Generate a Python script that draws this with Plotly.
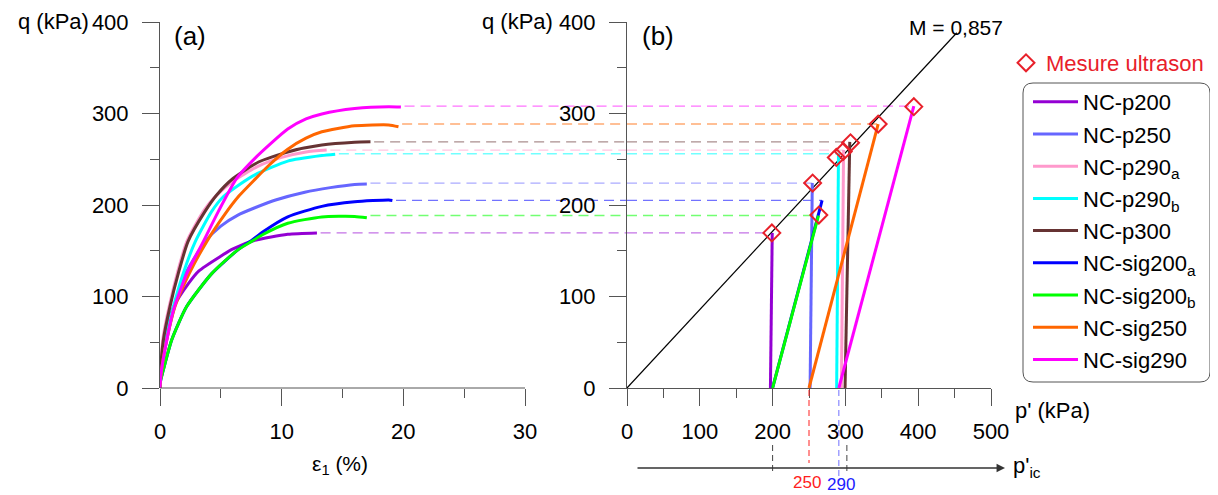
import plotly.graph_objects as go

# ---------------- data ----------------
names = ["NC-p200", "NC-p250", "NC-p290<sub>a</sub>", "NC-p290<sub>b</sub>", "NC-p300",
         "NC-sig200<sub>a</sub>", "NC-sig200<sub>b</sub>", "NC-sig250", "NC-sig290"]
colors = ["#9400D3", "#6666FF", "#FF99CC", "#00FFFF", "#663333",
          "#0000FF", "#00FF00", "#FF6600", "#FF00FF"]

# (a) q vs axial strain eps1 (%)
eps_p200 = [0, 0.05, 0.4, 1.1, 2.33, 3.2, 4.93, 6.0, 7.8, 10.5, 12.9]
q_p200 = [0, 18, 50, 88, 114, 128, 143.5, 152, 161.5, 168, 169.5]
eps_p250 = [0, 0.08, 0.5, 1.2, 2.1, 3.7, 5.0, 6.4, 7.8, 9.5, 11.9, 14.0, 16.0, 17.0]
q_p250 = [0, 18, 50, 89, 125, 160, 177, 189, 197, 205.5, 214, 219, 222.5, 223]
eps_p290a = [0, 0.05, 0.25, 0.8, 1.45, 2.2, 3.6, 4.6, 6.0, 8.0, 10.0, 12.0, 13.7]
q_p290a = [0, 22, 55, 92, 127, 160, 194, 210, 226, 242, 252, 258, 260]
eps_p290b = [0, 0.05, 0.41, 1.1, 1.9, 2.9, 4.25, 5.2, 6.6, 7.8, 10.5, 13.3, 14.4]
q_p290b = [0, 18, 52, 89, 125, 160, 193, 209, 223, 233, 248, 254, 255.5]
eps_p300 = [0, 0.05, 0.27, 0.82, 1.5, 2.3, 3.7, 4.66, 6.0, 8.1, 10.5, 13.3, 16.0, 17.3]
q_p300 = [0, 20, 52, 89, 125, 160, 193, 211, 229, 247, 258, 265.5, 268.5, 269]
eps_sig200a = [0, 0.05, 0.2, 0.96, 2.19, 4.25, 6.4, 7.5, 8.5, 10.5, 13.3, 16.0, 18.8, 19.1]
q_sig200a = [0, 8, 16, 52.5, 89, 125, 151, 161, 171, 187, 198.5, 203.5, 205.5, 205]
eps_sig200b = [0, 0.05, 0.2, 0.96, 2.19, 4.25, 6.4, 7.5, 8.5, 10.5, 13.3, 16.0, 17.0]
q_sig200b = [0, 8, 16, 52.5, 89, 125, 151, 160, 168, 180, 187, 187.5, 186]
eps_sig250 = [0, 0.08, 0.55, 1.23, 2.4, 3.84, 5.34, 6.5, 7.8, 9.0, 10.5, 12.0, 13.3, 16.0, 18.8, 19.6]
q_sig250 = [0, 15, 52, 89, 125, 160, 190, 210, 228, 244, 261, 273, 280, 286.5, 287.5, 285.5]
eps_sig290 = [0, 0.08, 0.45, 1.1, 2.2, 3.56, 4.8, 6.3, 7.8, 10.5, 12.0, 13.3, 16.0, 18.8, 19.8]
q_sig290 = [0, 15, 45, 85, 125, 160, 193, 229, 251, 283, 294, 299.5, 305.5, 307.5, 307]

# (b) effective stress paths q vs p'
p_path_p200 = [197, 199.5]
q_path_p200 = [0, 169.5]
p_path_p250 = [251.5, 254.5]
q_path_p250 = [0, 224]
p_path_p290a = [294.5, 297.5]
q_path_p290a = [0, 260]
p_path_p290b = [288, 290.5]
q_path_p290b = [0, 256]
p_path_p300 = [299.5, 306]
q_path_p300 = [0, 269]
p_path_sig200a = [200, 268]
q_path_sig200a = [0, 205]
p_path_sig200b = [200, 263]
q_path_sig200b = [0, 188.5]
p_path_sig250 = [250, 345]
q_path_sig250 = [0, 288.5]
p_path_sig290 = [291, 394]
q_path_sig290 = [0, 308]

# ultrasonic measurements
us_p = [199, 255, 263.5, 287.5, 297, 307, 345, 394]
us_q = [169.5, 224, 189, 252, 258.5, 268, 288.5, 307.5]

# critical state line
M_slope = 0.857
M_p_end = 453

# p'ic markers
pic_vals = [200, 250, 291, 302]

eps_all = [eps_p200, eps_p250, eps_p290a, eps_p290b, eps_p300,
           eps_sig200a, eps_sig200b, eps_sig250, eps_sig290]
q_all = [q_p200, q_p250, q_p290a, q_p290b, q_p300,
         q_sig200a, q_sig200b, q_sig250, q_sig290]
pp_all = [p_path_p200, p_path_p250, p_path_p290a, p_path_p290b, p_path_p300,
          p_path_sig200a, p_path_sig200b, p_path_sig250, p_path_sig290]
qp_all = [q_path_p200, q_path_p250, q_path_p290a, q_path_p290b, q_path_p300,
          q_path_sig200a, q_path_sig200b, q_path_sig250, q_path_sig290]

# ---------------- layout geometry ----------------
# the page body has an 8px margin, so the figure starts at (8, 8) of the window
OFF = 8
W, H = 1218 - OFF, 495 - OFF
FONT = "Arial, Liberation Sans, sans-serif"
AX = "#555555"

def px(x):
    return (x - OFF) / W

def py(y):
    return 1 - (y - OFF) / H

xa_dom = [px(160), px(627)]
xb_dom = [px(627), px(991)]
y_dom = [py(388), py(22)]
xa_max_vis = 30
xa_range_end = xa_max_vis * (627 - 160) / (525 - 160)

fig = go.Figure()

# dashed guide lines (drawn first)
for e, q, pp, qp, c in zip(eps_all, q_all, pp_all, qp_all, colors):
    qlvl = qp[-1]
    fig.add_trace(go.Scatter(x=[e[-1] + 0.3, xa_range_end], y=[qlvl, qlvl], mode="lines",
                             line=dict(color=c, width=1.3, dash="10px,6px"), opacity=0.55,
                             showlegend=False, hoverinfo="skip", xaxis="x", yaxis="y"))
    fig.add_trace(go.Scatter(x=[0, pp[-1]], y=[qlvl, qlvl], mode="lines",
                             line=dict(color=c, width=1.3, dash="10px,6px"), opacity=0.55,
                             showlegend=False, hoverinfo="skip", xaxis="x2", yaxis="y2"))

# critical state line
fig.add_trace(go.Scatter(x=[0, M_p_end], y=[0, M_slope * M_p_end], mode="lines",
                         line=dict(color="black", width=1.2), showlegend=False,
                         xaxis="x2", yaxis="y2"))

# (a) curves
for i, (n, e, q, c) in enumerate(zip(names, eps_all, q_all, colors)):
    fig.add_trace(go.Scatter(x=e, y=q, mode="lines", name=n, legendgroup=f"g{i}",
                             line=dict(color=c, width=3, shape="spline", smoothing=0.6),
                             xaxis="x", yaxis="y", legend="legend"))

# (b) paths
for pp, qp, c in zip(pp_all, qp_all, colors):
    fig.add_trace(go.Scatter(x=pp, y=qp, mode="lines", line=dict(color=c, width=3),
                             showlegend=False, xaxis="x2", yaxis="y2"))

# ultrasonic markers
fig.add_trace(go.Scatter(x=us_p, y=us_q, mode="markers", name="Mesure ultrason",
                         marker=dict(symbol="diamond-open", size=13, color="#E8202A",
                                     line=dict(width=2, color="#E8202A")),
                         xaxis="x2", yaxis="y2", legend="legend2"))

tickfont = dict(family=FONT, size=22, color="black")
common = dict(showgrid=False, zeroline=False, ticks="outside", ticklen=17, tickwidth=1,
              tickcolor=AX, tickfont=tickfont, linecolor=AX, linewidth=1, automargin=False)

shapes = []
# left x axis line (0..30 only)
shapes.append(dict(type="line", xref="x", yref="paper", x0=0, x1=xa_max_vis,
                   y0=y_dom[0], y1=y_dom[0], line=dict(color=AX, width=1)))
# p'ic guide verticals
pic_styles = [("#444444", 445, 473), ("#FF2020", 390, 463), ("#7070FF", 390, 481), ("#444444", 445, 472)]
for v, (c, ya, yb) in zip(pic_vals, pic_styles):
    shapes.append(dict(type="line", xref="x2", yref="paper", x0=v, x1=v, y0=py(ya), y1=py(yb),
                       line=dict(color=c, width=1, dash="6px,4px")))
# rounded legend box
x0, x1, y0, y1, r = 1023, 1210, 83, 382, 10
path = (f"M {px(x0+r)},{py(y0)} L {px(x1-r)},{py(y0)} Q {px(x1)},{py(y0)} {px(x1)},{py(y0+r)} "
        f"L {px(x1)},{py(y1-r)} Q {px(x1)},{py(y1)} {px(x1-r)},{py(y1)} "
        f"L {px(x0+r)},{py(y1)} Q {px(x0)},{py(y1)} {px(x0)},{py(y1-r)} "
        f"L {px(x0)},{py(y0+r)} Q {px(x0)},{py(y0)} {px(x0+r)},{py(y0)} Z")
shapes.append(dict(type="path", xref="paper", yref="paper", path=path,
                   line=dict(color=AX, width=1), fillcolor="rgba(0,0,0,0)", layer="below"))

def ann(text, x, y, size=22, color="black", xanchor="center"):
    return dict(text=text, x=px(x), y=py(y), xref="paper", yref="paper", showarrow=False,
                font=dict(family=FONT, size=size, color=color), xanchor=xanchor, yanchor="middle")

annotations = [
    ann("q (kPa)", 53, 22),
    ann("q (kPa)", 517, 22),
    ann("(a)", 190, 36, size=26),
    ann("(b)", 658, 36, size=26),
    ann("M = 0,857", 956, 28, size=21),
    ann("ε<sub>1</sub> (%)", 340, 465, size=21),
    ann("p' (kPa)", 1052, 410),
    ann("p'<sub>ic</sub>", 1027, 467),
    ann("250", 807, 482, size=17, color="#FF2020"),
    ann("290", 841, 484, size=17, color="#2020FF"),
    dict(text=" ", x=px(1005), y=py(468), xref="paper", yref="paper", showarrow=True,
         ax=-(1005 - 633), ay=0, arrowhead=2, arrowsize=1.3, arrowwidth=1.3, arrowcolor="#333333"),
]

fig.update_layout(
    width=W, height=H, margin=dict(l=0, r=0, t=0, b=0, autoexpand=False),
    paper_bgcolor="white", plot_bgcolor="white",
    font=dict(family=FONT, size=22, color="black"),
    xaxis=dict(domain=xa_dom, range=[0, xa_range_end], anchor="y", showline=False,
               tickmode="array", tickvals=[0, 10, 20, 30], ticklabelstandoff=7,
               minor=dict(tickmode="array", tickvals=[5, 15, 25], ticklen=9, tickcolor=AX, ticks="outside"),
               **{k: v for k, v in common.items() if k not in ("linecolor", "linewidth")}),
    yaxis=dict(domain=y_dom, range=[0, 400], anchor="x", showline=True, dtick=100, ticklabelstandoff=9,
               minor=dict(dtick=50, ticklen=9, tickcolor=AX, ticks="outside"), **common),
    xaxis2=dict(domain=xb_dom, range=[0, 500], anchor="y2", showline=True, dtick=100, ticklabelstandoff=7,
                minor=dict(dtick=50, ticklen=9, tickcolor=AX, ticks="outside"), **common),
    yaxis2=dict(domain=y_dom, range=[0, 400], anchor="x2", showline=True, dtick=100, ticklabelstandoff=9,
                minor=dict(dtick=50, ticklen=9, tickcolor=AX, ticks="outside"), **common),
    legend=dict(x=px(1028), y=py(81), xanchor="left", yanchor="top", bgcolor="rgba(0,0,0,0)",
                borderwidth=0, itemwidth=45, font=dict(family=FONT, size=22, color="black"),
                tracegroupgap=0.6),
    legend2=dict(x=px(1006), y=py(42), xanchor="left", yanchor="top", bgcolor="rgba(0,0,0,0)",
                 borderwidth=0, itemwidth=30, font=dict(family=FONT, size=22, color="#E8202A")),
    shapes=shapes, annotations=annotations,
)

fig.write_html("out.html")
